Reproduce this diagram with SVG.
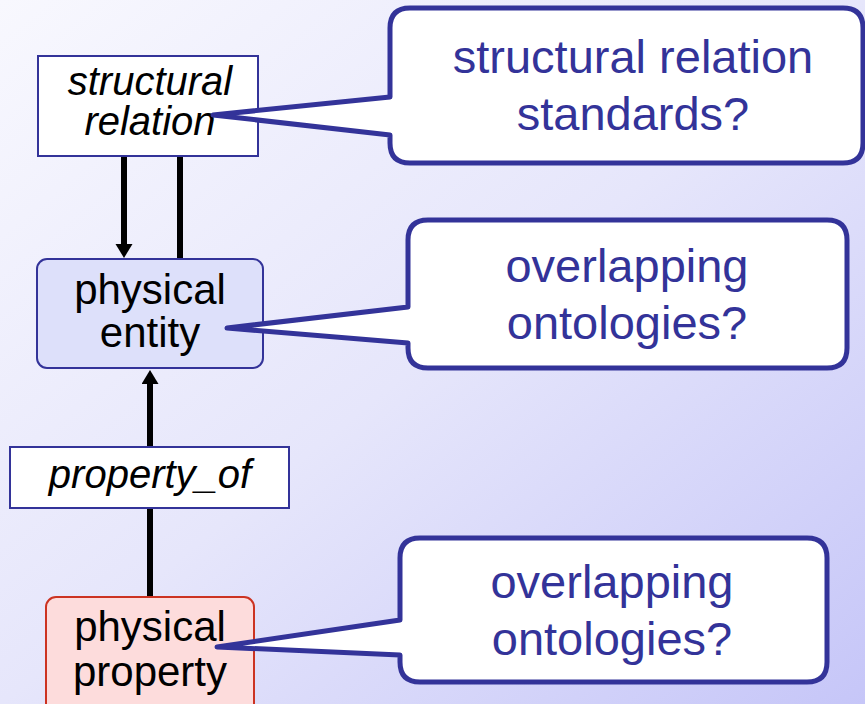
<svg xmlns="http://www.w3.org/2000/svg" width="865" height="704" viewBox="0 0 865 704">
<defs>
<linearGradient id="bg" x1="0" y1="0" x2="1" y2="1">
<stop offset="0" stop-color="#f8f8fe"/>
<stop offset="0.5" stop-color="#e6e6fb"/>
<stop offset="1" stop-color="#c6c6f8"/>
</linearGradient>
<marker id="ah" markerUnits="userSpaceOnUse" markerWidth="15" markerHeight="18" refX="1" refY="8.5" orient="auto">
<path d="M0,0 L14,8.5 L0,17 z" fill="#000"/>
</marker>
<style>
.rel{fill:#fff;stroke:#333399;stroke-width:2}
.ent{fill:#dde0fa;stroke:#333399;stroke-width:2}
.prop{fill:#fddcdc;stroke:#cc3322;stroke-width:2}
.call{fill:#fff;stroke:#333399;stroke-width:5;stroke-linejoin:round}
.t{font-family:"Liberation Sans",Arial,sans-serif;font-size:40px;fill:#000;text-anchor:middle}
.b{font-size:42px}
.i{font-style:italic}
.ct{font-family:"Liberation Sans",Arial,sans-serif;font-size:47px;fill:#333399;text-anchor:middle}
.edge{stroke:#000;stroke-width:6;fill:none}
</style>
</defs>
<rect x="0" y="0" width="865" height="704" fill="url(#bg)"/>

<g id="connectors">
<line class="edge" x1="124" y1="156" x2="124" y2="245" marker-end="url(#ah)"/>
<line class="edge" x1="180" y1="156" x2="180" y2="259"/>
<line class="edge" x1="150" y1="447" x2="150" y2="383" marker-end="url(#ah)"/>
<line class="edge" x1="150" y1="508" x2="150" y2="597"/>
</g>

<g id="structural-relation">
<rect class="rel" x="38" y="56" width="220" height="100"/>
<text class="t i" x="150" y="95">structural</text>
<text class="t i" x="150" y="135">relation</text>
</g>

<g id="physical-entity">
<rect class="ent" x="37" y="259" width="226" height="109" rx="10"/>
<text class="t b" x="150" y="304">physical</text>
<text class="t b" x="150" y="347">entity</text>
</g>

<g id="property-of">
<rect class="rel" x="10" y="447" width="279" height="61"/>
<text class="t i" x="150" y="488">property_of</text>
</g>

<g id="physical-property">
<rect class="prop" x="46" y="597" width="208" height="120" rx="10"/>
<text class="t b" x="150" y="641">physical</text>
<text class="t b" x="150" y="686">property</text>
</g>

<g id="callout-standards">
<path class="call" d="M410,8 H843 Q863,8 863,28 V143 Q863,163 843,163 H410 Q390,163 390,143 V135 L213,115 L390,97 V28 Q390,8 410,8 Z"/>
<text class="ct" x="633" y="73">structural relation</text>
<text class="ct" x="633" y="130">standards?</text>
</g>

<g id="callout-overlap-1">
<path class="call" d="M428,220 H827 Q847,220 847,240 V348 Q847,368 827,368 H428 Q408,368 408,348 V343 L227,328 L408,307 V240 Q408,220 428,220 Z"/>
<text class="ct" x="627" y="282">overlapping</text>
<text class="ct" x="627" y="339">ontologies?</text>
</g>

<g id="callout-overlap-2">
<path class="call" d="M420,538 H807 Q827,538 827,558 V662 Q827,682 807,682 H420 Q400,682 400,662 V655 L217,647 L400,620 V558 Q400,538 420,538 Z"/>
<text class="ct" x="612" y="598">overlapping</text>
<text class="ct" x="612" y="655">ontologies?</text>
</g>
</svg>
